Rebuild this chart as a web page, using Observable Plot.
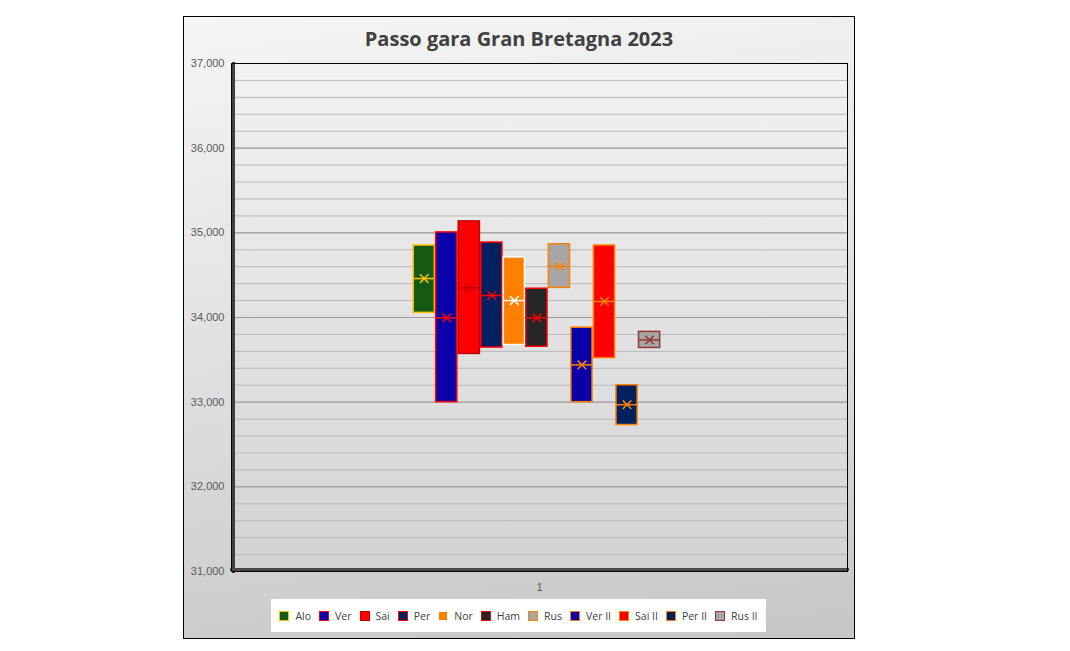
<!DOCTYPE html>
<html>
<head>
<meta charset="utf-8">
<script src="https://cdn.jsdelivr.net/npm/d3@7"></script>
<script src="https://cdn.jsdelivr.net/npm/@observablehq/plot@0.6"></script>
<style>
  html, body { margin: 0; padding: 0; background: #fff; width: 1070px; height: 651px; overflow: hidden; }
  #chart {
    position: absolute; left: 183px; top: 16px; width: 670px; height: 621px;
    border: 1px solid #000;
    background: linear-gradient(172deg, #f5f5f5 0%, #e2e2e2 45%, #c6c6c6 100%);
  }
  #title {
    position: absolute; left: 0; top: 8px; width: 100%; text-align: center;
    font-family: "Open Sans", sans-serif; font-weight: bold; font-size: 20px; color: #404040;
  }
  #plot { position: absolute; left: 0; top: 0; }
  #legend {
    position: absolute; left: 87px; top: 582px; width: 495px; height: 33px; background: #fff;
    display: flex; align-items: center; justify-content: center; gap: 8px;
    font-family: "Open Sans", sans-serif; font-size: 10.5px; color: #404040; white-space: nowrap;
  }
  .item { display: flex; align-items: center; white-space: nowrap; }
  .sw { width: 8px; height: 8px; border: 1.5px solid; margin-right: 6px; flex: none; }
</style>
</head>
<body>
<div id="chart">
  <div id="title">Passo gara Gran Bretagna 2023</div>
  <div id="plot"></div>
  <div id="legend"></div>
</div>
<script>
const categories = ["1"];
const series = ["Alo", "Ver", "Sai", "Per", "Nor", "Ham", "Rus", "Ver II", "Sai II", "Per II", "Rus II"];
const high   = [34850, 35005, 35135, 34885, 34710, 34340, 34865, 33880, 34850, 33200, 33830];
const low    = [34055, 33000, 33570, 33645, 33675, 33655, 34350, 33000, 33520, 32730, 33640];
const median = [34460, 33995, 34350, 34260, 34200, 33995, 34605, 33440, 34190, 32970, 33735];
const mean   = [34460, 33995, 34350, 34260, 34200, 33995, 34605, 33440, 34190, 32970, 33735];
const fills   = ["#135a14", "#0a00aa", "#ff0000", "#002060", "#ff8000", "#262626", "#a6a6a6", "#0a00aa", "#ff0000", "#002060", "#a6a6a6"];
const strokes = ["#ffc000", "#ff0000", "#c00000", "#ff0000", "#ffffff", "#ff0000", "#ff8000", "#ff8000", "#ff8000", "#ff8000", "#953735"];
const yTicks = [31000, 32000, 33000, 34000, 35000, 36000, 37000];
const gridMinor = d3.range(31000, 37001, 200);

const data = series.map((name, i) => ({
  cat: categories[0], name, low: low[i], high: high[i], median: median[i], mean: mean[i],
  fill: fills[i], stroke: strokes[i]
}));

const plot = Plot.plot({
  width: 670, height: 585,
  marginLeft: 47, marginRight: 7, marginTop: 46, marginBottom: 31,
  style: { fontFamily: "Liberation Sans, Arial, sans-serif", fontSize: "11px", color: "#595959", background: "transparent" },
  x: { domain: series, paddingInner: 0.06, paddingOuter: 8.2, align: 0.493, round: false, axis: null },
  fx: { domain: categories, padding: 0, round: false },
  y: { domain: [31000, 37000] },
  color: { type: "identity" },
  marks: [
    Plot.frame({ fill: "url(#plotGrad)", stroke: null }),
    Plot.ruleY(gridMinor, { stroke: "#b9b9b9", strokeWidth: 1 }),
    Plot.ruleY(yTicks, { stroke: "#9a9a9a", strokeWidth: 1 }),
    Plot.barY(data, { fx: "cat", x: "name", y1: "low", y2: "high", fill: "fill", stroke: "stroke", strokeWidth: 1.5 }),
    Plot.tickY(data, { fx: "cat", x: "name", y: "median", stroke: "stroke", strokeWidth: 1.5 }),
    Plot.dot(data, { fx: "cat", x: "name", y: "mean", stroke: "stroke", symbol: "times", r: 4, strokeWidth: 1.5 }),
    Plot.frame({ anchor: "left", stroke: "#404040", strokeWidth: 3, dx: 2 }),
    Plot.frame({ anchor: "bottom", stroke: "#4a4a4a", strokeWidth: 3, dy: -2 }),
    Plot.frame({ stroke: "#000", strokeWidth: 1 }),
    Plot.axisY(yTicks, { tickSize: 0, tickPadding: 7, tickFormat: d3.format(","), label: null }),
    Plot.axisFx({ anchor: "bottom", tickSize: 0, tickPadding: 12, label: null })
  ]
});

const defs = d3.select(plot).insert("defs", ":first-child");
const grad = defs.append("linearGradient").attr("id", "plotGrad").attr("x1", 0).attr("y1", 0).attr("x2", 0).attr("y2", 1);
grad.append("stop").attr("offset", "0%").attr("stop-color", "#f2f2f2");
grad.append("stop").attr("offset", "100%").attr("stop-color", "#d3d3d3");

document.getElementById("plot").appendChild(plot);

const legend = document.getElementById("legend");
series.forEach((name, i) => {
  const it = document.createElement("div");
  it.className = "item";
  const sw = document.createElement("div");
  sw.className = "sw";
  sw.style.background = fills[i];
  sw.style.borderColor = strokes[i];
  const lb = document.createElement("span");
  lb.textContent = name;
  it.appendChild(sw); it.appendChild(lb);
  legend.appendChild(it);
});
</script>
</body>
</html>
